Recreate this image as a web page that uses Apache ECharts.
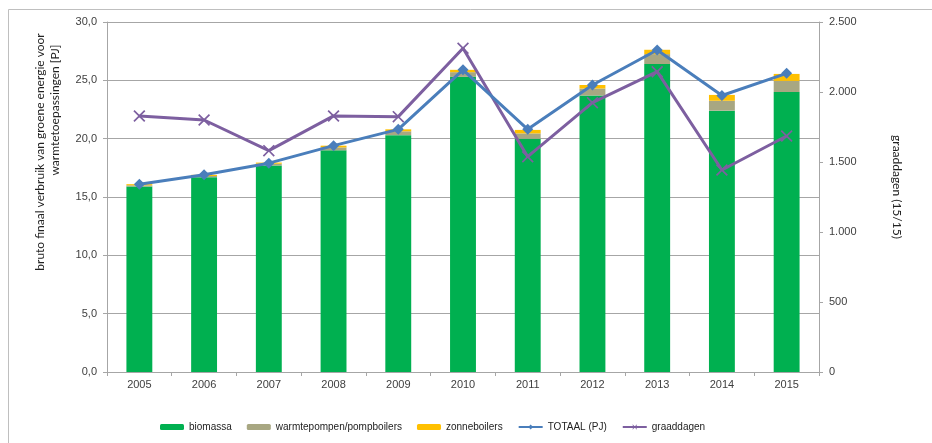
<!DOCTYPE html>
<html>
<head>
<meta charset="utf-8">
<script src="https://cdn.jsdelivr.net/npm/echarts@6/dist/echarts.min.js"></script>
<style>
  html, body { margin: 0; padding: 0; background: #fff; }
  #chart { width: 932px; height: 443px; }
</style>
</head>
<body>
<div id="chart"></div>
<script>
// jaren
const years = ['2005', '2006', '2007', '2008', '2009', '2010', '2011', '2012', '2013', '2014', '2015'];
// PJ
const biomassa = [15.9, 16.7, 17.7, 19.0, 20.3, 25.3, 20.0, 23.7, 26.4, 22.4, 24.0];
const warmtepompen = [0.1, 0.1, 0.15, 0.25, 0.33, 0.4, 0.45, 0.6, 0.85, 0.85, 0.95];
const zonneboilers = [0.1, 0.1, 0.1, 0.15, 0.17, 0.2, 0.3, 0.3, 0.37, 0.5, 0.6];
const totaal = [16.1, 16.9, 17.9, 19.4, 20.8, 25.9, 20.8, 24.6, 27.6, 23.7, 25.6];
// graaddagen (15/15)
const graaddagen = [1829, 1800, 1581, 1829, 1824, 2312, 1538, 1924, 2145, 1443, 1686];

const gridColor = '#a6a6a6';
const labelColor = '#404040';
const crossSymbol = 'path://M0,1L1,0L5,4L9,0L10,1L6,5L10,9L9,10L5,6L1,10L0,9L4,5Z';

const fmtPJ = v => v.toFixed(1).replace('.', ',');
const fmtGD = v => String(v).replace(/\B(?=(\d{3})+(?!\d))/g, '.');

const myChart = echarts.init(document.getElementById('chart'));
myChart.setOption({
    animation: false,
    textStyle: { fontFamily: '"Liberation Sans", Arial, sans-serif' },
    grid: { left: 107, right: 113, top: 22, bottom: 71 },
    legend: {
        left: 160,
        top: 422,
        padding: 0,
        itemWidth: 24,
        itemHeight: 6,
        itemGap: 15,
        textStyle: { fontSize: 10, color: '#222' },
        data: ['biomassa', 'warmtepompen/pompboilers', 'zonneboilers', 'TOTAAL (PJ)', 'graaddagen']
    },
    graphic: [
        {
            type: 'rect', silent: true, z: -10,
            shape: { x: 8.5, y: 9.5, width: 1000, height: 1000 },
            style: { fill: 'none', stroke: '#bfbfbf', lineWidth: 1 }
        },
        {
            type: 'text', x: 40, y: 152, rotation: Math.PI / 2,
            style: {
                text: 'bruto finaal verbruik van groene energie voor',
                font: '12px Lato, sans-serif', fill: '#222',
                align: 'center', verticalAlign: 'middle'
            }
        },
        {
            type: 'text', x: 55, y: 110, rotation: Math.PI / 2,
            style: {
                text: 'warmtetoepassingen [PJ]',
                font: '12px Lato, sans-serif', fill: '#222',
                align: 'center', verticalAlign: 'middle'
            }
        },
        {
            type: 'text', x: 897, y: 187, rotation: -Math.PI / 2,
            style: {
                text: 'graaddagen (15/15)',
                font: '12px Lato, sans-serif', fill: '#222',
                align: 'center', verticalAlign: 'middle'
            }
        }
    ],
    xAxis: {
        type: 'category',
        data: years,
        axisLine: { lineStyle: { color: gridColor } },
        axisTick: { show: true, length: 4, lineStyle: { color: gridColor } },
        axisLabel: { color: labelColor, fontSize: 11, margin: 7 }
    },
    yAxis: [
        {
            type: 'value', min: 0, max: 30, interval: 5,
            axisLine: { show: true, lineStyle: { color: gridColor } },
            axisTick: { show: true, length: 4, lineStyle: { color: gridColor } },
            axisLabel: { color: labelColor, fontSize: 11, margin: 10, formatter: fmtPJ },
            splitLine: { lineStyle: { color: gridColor } }
        },
        {
            type: 'value', min: 0, max: 2500, interval: 500,
            position: 'right',
            axisLine: { show: true, lineStyle: { color: gridColor } },
            axisTick: { show: true, length: 4, lineStyle: { color: gridColor } },
            axisLabel: { color: labelColor, fontSize: 11, margin: 10, formatter: fmtGD },
            splitLine: { show: false }
        }
    ],
    series: [
        {
            name: 'biomassa', type: 'bar', stack: 'pj', barWidth: '40%',
            itemStyle: { color: '#00b050' }, data: biomassa
        },
        {
            name: 'warmtepompen/pompboilers', type: 'bar', stack: 'pj',
            itemStyle: { color: '#a8a782' }, data: warmtepompen
        },
        {
            name: 'zonneboilers', type: 'bar', stack: 'pj',
            itemStyle: { color: '#ffc000' }, data: zonneboilers
        },
        {
            name: 'TOTAAL (PJ)', type: 'line', z: 5,
            symbol: 'diamond', symbolSize: 11,
            itemStyle: { color: '#4a7ebb' },
            lineStyle: { color: '#4a7ebb', width: 3 },
            data: totaal
        },
        {
            name: 'graaddagen', type: 'line', yAxisIndex: 1, z: 4,
            symbol: crossSymbol, symbolSize: 12,
            itemStyle: { color: '#7d5fa0' },
            lineStyle: { color: '#7d5fa0', width: 3 },
            data: graaddagen
        }
    ]
});
</script>
</body>
</html>
